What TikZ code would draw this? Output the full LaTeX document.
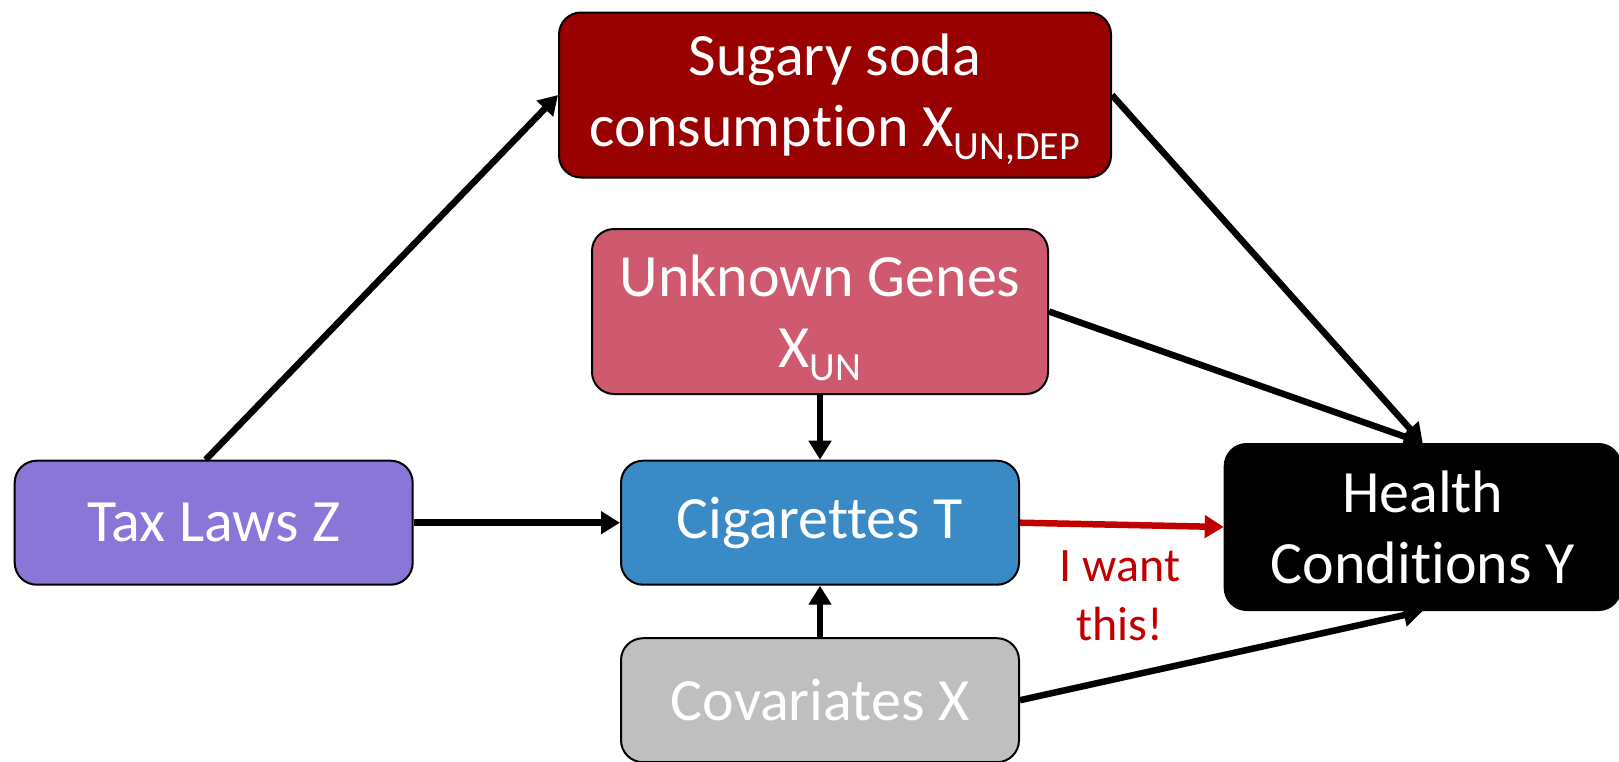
\documentclass[tikz,border=0pt]{standalone}
\usepackage{fontspec}
\setmainfont{Carlito}[Ligatures=NoCommon]
\usetikzlibrary{arrows.meta,calc}

\definecolor{sodared}{RGB}{153,0,0}
\definecolor{genepink}{RGB}{207,90,111}
\definecolor{taxpurple}{RGB}{137,118,215}
\definecolor{cigblue}{RGB}{58,138,198}
\definecolor{covgray}{RGB}{191,191,191}
\definecolor{wantred}{RGB}{192,0,0}

% subscript as set in the boxes
\newcommand{\lowsub}[1]{\smash{\raisebox{-0.21em}{\fontsize{40}{40}\selectfont #1}}}

\begin{document}
\begin{tikzpicture}[x=1pt,y=-1pt,
  varbox/.style={draw=black,line width=2pt,rounded corners=22pt,
    text=white,align=center,inner sep=0pt,
    font=\fontsize{60}{71}\selectfont},
  link/.style={line width=6.5pt,-{Triangle[length=19pt,width=22pt]}},
]
\useasboundingbox (0,0) rectangle (1619,761);

\node[varbox,fill=sodared,minimum width=552pt,minimum height=165pt]
  (soda) at (835,95) {Sugary soda\\consumption X\lowsub{UN,DEP}};
\node[varbox,fill=genepink,minimum width=456pt,minimum height=165pt]
  (genes) at (820,311.5) {Unknown Genes\\X\lowsub{UN}};
\node[varbox,fill=taxpurple,minimum width=398pt,minimum height=124pt]
  (tax) at (213.7,522.7) {Tax Laws Z};
\node[varbox,fill=cigblue,minimum width=398pt,minimum height=124pt]
  (cig) at (820,522.7) {Cigarettes T};
\node[varbox,fill=covgray,minimum width=398pt,minimum height=124pt]
  (cov) at (820,700.2) {Covariates X};
\node[varbox,fill=black,minimum width=396pt,minimum height=166pt]
  (health) at (1422.7,527) {Health\\Conditions Y};

\draw[link] ($(tax.north west)!0.48!(tax.north east)$) -- (soda.west);
\draw[link] (soda.east) -- (health.north);
\draw[link] (genes.east) -- (health.north);
\draw[link] (genes.south) -- (cig.north);
\draw[link] (tax.east) -- (cig.west);
\draw[link] (cov.north) -- (cig.south);
\draw[link] (cov.east) -- (health.south);
\draw[link,draw=wantred,fill=wantred] (cig.east) -- (health.west);

\node[text=wantred,align=center,inner sep=0pt,
  font=\fontsize{48}{59}\selectfont] (want) at (1120,596) {I want\\this!};
\end{tikzpicture}
\end{document}
